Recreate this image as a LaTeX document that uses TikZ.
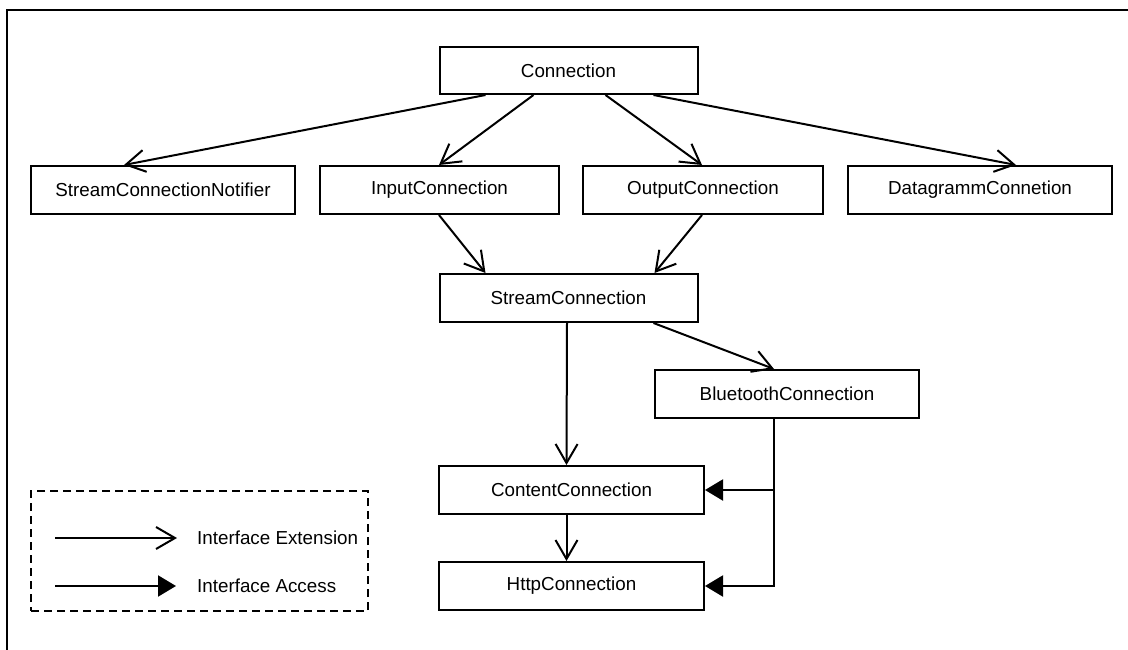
\documentclass[tikz,border=0pt]{standalone}
\usepackage{fontspec}
\setmainfont{Liberation Sans}
\usetikzlibrary{arrows.meta}
\begin{document}
\begin{tikzpicture}[x=1pt,y=-1pt,
  box/.style={draw, line width=2pt, inner sep=0pt, minimum height=48pt, font=\fontsize{18.8}{22}\selectfont},
  ext/.style={line width=2pt, -{Straight Barb[length=19pt,width=22pt,line width=2pt]}},
  access/.style={line width=2pt, -{Triangle[length=18pt,width=21pt]}},
  lbl/.style={anchor=west, inner sep=0pt, font=\fontsize{18.8}{22}\selectfont}]
\useasboundingbox (0,0) rectangle (1128,650);
\draw[line width=2.6pt] (7,652) -- (7,10) -- (1130,10);

\node[box, minimum width=258pt, minimum height=47pt] (conn) at (568.5,70.5) {Connection};
\node[box, minimum width=264pt] (scn) at (163,190) {StreamConnectionNotifier};
\node[box, minimum width=239pt] (inp) at (439.5,190) {InputConnection};
\node[box, minimum width=240pt] (outp) at (703,190) {OutputConnection};
\node[box, minimum width=264pt] (dg) at (980,190) {DatagrammConnetion};
\node[box, minimum width=258pt] (stream) at (568.5,298) {StreamConnection};
\node[box, minimum width=264pt] (bt) at (787,394) {BluetoothConnection};
\node[box, minimum width=265pt] (content) at (571.5,490) {ContentConnection};
\node[box, minimum width=265pt] (http) at (571.5,586) {HttpConnection};

\draw[ext] ([xshift=47pt]conn.south west) -- ([xshift=94pt]scn.north west);
\draw[ext] ([xshift=95pt]conn.south west) -- ([xshift=120pt]inp.north west);
\draw[ext] ([xshift=167pt]conn.south west) -- ([xshift=120pt]outp.north west);
\draw[ext] ([xshift=215pt]conn.south west) -- ([xshift=169pt]dg.north west);
\draw[ext] ([xshift=120pt]inp.south west) -- ([xshift=47pt]stream.north west);
\draw[ext] ([xshift=120pt]outp.south west) -- ([xshift=216pt]stream.north west);
\draw[ext] ([xshift=128.5pt]stream.south west) -- ([xshift=128.5pt]content.north west);
\draw[ext] ([xshift=215pt]stream.south west) -- ([xshift=120pt]bt.north west);
\draw[ext] ([xshift=128.5pt]content.south west) -- ([xshift=128.5pt]http.north west);

\coordinate (bttap) at ([xshift=120pt]bt.south west);
\draw[access] (bttap) |- (http.east);
\draw[access] (bttap |- content.east) -- (content.east);

\node[draw, line width=2pt, dash pattern=on 8pt off 5pt, minimum width=337pt, minimum height=120pt, inner sep=0pt] (legend) at (199.5,551) {};
\coordinate (e1) at (55,538);
\coordinate (e2) at (177,538);
\coordinate (a1) at (55,586);
\coordinate (a2) at (176,586);
\draw[ext] (e1) -- (e2);
\draw[access] (a1) -- (a2);
\node[lbl] (lext) at (197,538) {Interface Extension};
\node[lbl] (lacc) at (197,586) {Interface Access};
\end{tikzpicture}
\end{document}
